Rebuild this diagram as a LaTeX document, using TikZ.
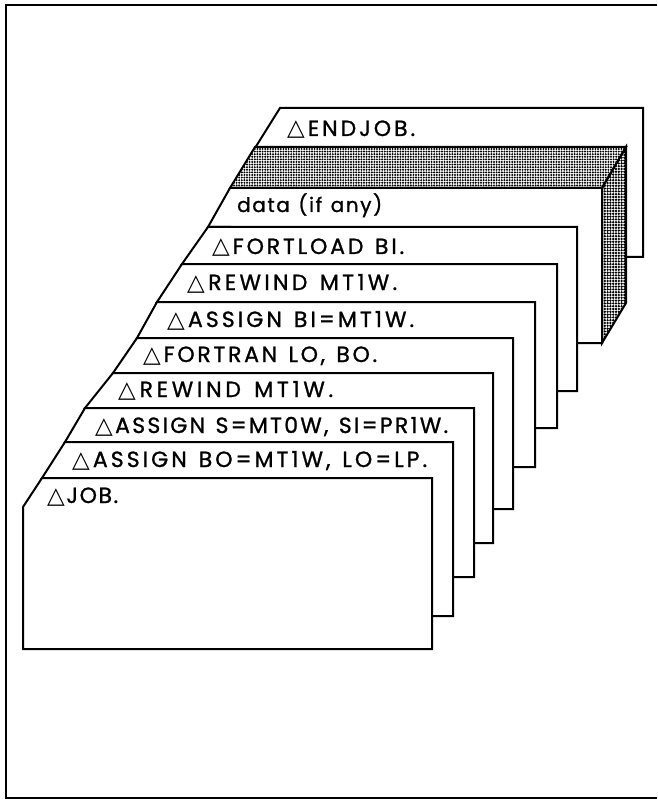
\documentclass[tikz,border=0pt]{standalone}
\usepackage{fontspec}
\setmainfont{Poppins}[FakeBold=1.1]
\newfontfamily\symf{DejaVu Sans}
\usetikzlibrary{patterns}
\pgfdeclarepatternformonly{finedots}{\pgfqpoint{-1.2pt}{-1.2pt}}{\pgfqpoint{2pt}{2pt}}{\pgfqpoint{2.6pt}{2.6pt}}{\pgfpathcircle{\pgfqpoint{0pt}{0pt}}{1.1pt}\pgfusepath{fill}}
\pgfdeclarepatternformonly{sidedots}{\pgfqpoint{-1.5pt}{-1.5pt}}{\pgfqpoint{2pt}{2pt}}{\pgfqpoint{2.8pt}{2.8pt}}{\pgfpathcircle{\pgfqpoint{0pt}{0pt}}{1.3pt}\pgfusepath{fill}}
\newcommand{\tri}{{\symf\fontsize{23}{23}\selectfont △}}
\ExplSyntaxOn
\NewDocumentCommand{\spreadto}{m m m}{
  \hbox~to~#1{#2\str_map_inline:nn {#3}{##1\hfil}\hskip~0pt~plus~-1fil}
}
\ExplSyntaxOff
\tikzset{
  card/.style={draw=black, fill=white, line width=2pt, line join=miter},
  shade/.style={draw=black, line width=2pt, line join=miter, pattern=finedots},
  sideshade/.style={draw=black, line width=2pt, line join=miter, pattern=sidedots},
  lbl/.style={anchor=base west, inner sep=0pt, font=\fontsize{22}{22}\selectfont},
  lowlbl/.style={anchor=base west, inner sep=0pt, font=\fontsize{20}{20}\selectfont},
  frame/.style={draw=black, line width=2pt}
}
\begin{document}
\begin{tikzpicture}[x=1pt,y=-1pt]
\useasboundingbox (0,0) rectangle (657,799);
\draw[frame] (657,5) -- (6,5) -- (6,798) -- (657,798);
% ENDJOB card
\draw[card] (280,108) -- (643,108) -- (643,257) -- (615,257) -- (615,148) -- (255,148) -- cycle;
\node[lbl] (tendjob) at (287,136) {\spreadto{128pt}{\tri\hfil}{ENDJOB.}};
% data deck (shaded block)
\fill[white] (255,147) -- (626,147) -- (626,303) -- (602,343) -- (230,343) -- (230,188) -- cycle;
\draw[shade] (255,147) -- (626,147) -- (602,188) -- (230,188) -- cycle;
\draw[sideshade] (626,147) -- (626,303) -- (602,343) -- (602,188) -- cycle;
\draw[card] (230,188) -- (602,188) -- (602,343) -- (230,343) -- (230,227) -- (208,227) -- cycle;
\node[lowlbl] (tdata) at (237,212) {\spreadto{145pt}{}{data (if any)}};
% FORTLOAD
\draw[card] (208,227) -- (577,227) -- (577,391) -- (204,391) -- (204,264) -- (182,264) -- cycle;
\node[lbl] (tfortload) at (212,254) {\spreadto{192pt}{\tri\hfil}{FORTLOAD BI.}};
% REWIND 1
\draw[card] (182,264) -- (557,264) -- (557,428) -- (179,428) -- (179,302) -- (157,302) -- cycle;
\node[lbl] (trewinda) at (187,290) {\spreadto{210pt}{\tri\hfil}{REWIND MT1W.}};
% ASSIGN BI
\draw[card] (157,302) -- (535,302) -- (535,467) -- (159,467) -- (159,338) -- (137,338) -- cycle;
\node[lbl] (tassignbi) at (167,327) {\spreadto{247pt}{\tri\hfil}{ASSIGN BI=MT1W.}};
% FORTRAN
\draw[card] (137,338) -- (513,338) -- (513,509) -- (135,509) -- (135,373) -- (113,373) -- cycle;
\node[lbl] (tfortran) at (143,362) {\spreadto{234pt}{\tri\hfil}{FORTRAN LO, BO.}};
% REWIND 2
\draw[card] (113,373) -- (493,373) -- (493,543) -- (107,543) -- (107,408) -- (85,408) -- cycle;
\node[lbl] (trewindb) at (118,397) {\spreadto{215pt}{\tri\hfil}{REWIND MT1W.}};
% ASSIGN S
\draw[card] (85,408) -- (474,408) -- (474,577) -- (87,577) -- (87,442) -- (65,442) -- cycle;
\node[lbl] (tassigns) at (95,433) {\spreadto{353pt}{\tri\hfil}{ASSIGN S=MT0W, SI=PR1W.}};
% ASSIGN BO
\draw[card] (65,442) -- (453,442) -- (453,616) -- (64,616) -- (64,478) -- (42,478) -- cycle;
\node[lbl] (tassignbo) at (72,467) {\spreadto{355pt}{\tri\hfil}{ASSIGN BO=MT1W, LO=LP.}};
% JOB
\draw[card] (42,478) -- (432,478) -- (432,649) -- (23,649) -- (23,507) -- cycle;
\node[lbl] (tjob) at (47,503) {\spreadto{71pt}{\tri\hfil}{JOB.}};
\end{tikzpicture}
\end{document}
